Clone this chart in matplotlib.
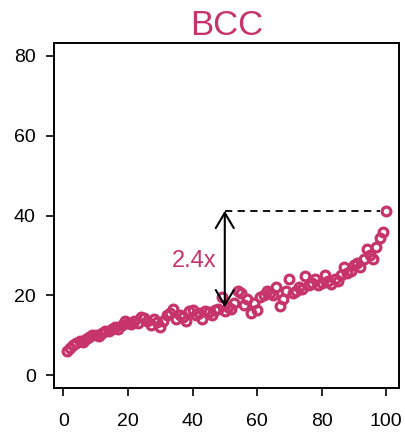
import matplotlib.pyplot as plt

plt.rcParams['font.family'] = ['Liberation Sans', 'DejaVu Sans']

col = '#C7336B'

x = list(range(1, 101))
y = [6.0, 6.8, 7.5, 8.0, 8.5, 8.3, 9.0, 9.5, 10.0, 10.0,
     9.8, 10.5, 11.0, 11.0, 11.5, 12.0, 11.5, 12.5, 13.5, 13.0,
     12.8, 13.5, 13.0, 14.5, 14.3, 13.5, 12.5, 14.0, 13.3, 12.0,
     13.5, 15.0, 15.5, 16.5, 14.0, 15.0, 14.5, 13.5, 16.0, 16.3,
     15.0, 15.5, 14.0, 16.0, 15.8, 15.0, 16.3, 16.5, 19.5, 16.0,
     17.0, 16.5, 18.0, 21.0, 20.5, 17.5, 19.0, 15.5, 18.0, 16.3,
     19.5, 20.0, 21.0, 20.5, 20.0, 22.0, 17.3, 19.0, 21.0, 24.0,
     20.5, 21.0, 22.0, 21.5, 24.8, 22.5, 23.0, 24.0, 22.5, 23.0,
     25.0, 23.5, 22.8, 24.0, 23.5, 25.0, 27.0, 25.5, 26.0, 27.5,
     28.0, 27.0, 29.0, 31.5, 30.0, 29.0, 32.0, 34.5, 36.0, 41.2]

ratio_label = '2.4x'
arrow_x = 50
arrow_lo = 17.0
arrow_hi = 41.2

fig = plt.figure(figsize=(4.05, 4.32), dpi=100)
ax = fig.add_axes([0.133, 0.102, 0.852, 0.798])

ax.plot(x, y, linestyle='none', marker='o', markersize=6.3,
        markerfacecolor='none', markeredgecolor=col, markeredgewidth=2.3, zorder=3)

# dashed reference line at max value
ax.plot([arrow_x, 98], [arrow_hi, arrow_hi], color='black', linestyle=(0, (4, 3)), lw=1.3)
ax.annotate('', xy=(arrow_x, arrow_hi), xytext=(arrow_x, arrow_lo),
            arrowprops=dict(arrowstyle='<->,head_length=11,head_width=6.5',
                            mutation_scale=1, color='black', lw=1.5,
                            shrinkA=0, shrinkB=0))
ax.text(47.5, 28.5, ratio_label, color=col, fontsize=17, ha='right', va='center')

ax.set_xlim(-2.96, 103.96)
ax.set_ylim(-3.2, 83.2)
ax.set_xticks([0, 20, 40, 60, 80, 100])
ax.set_yticks([0, 20, 40, 60, 80])
ax.tick_params(axis='both', direction='out', length=6, width=1.2, labelsize=14)
ax.tick_params(axis='x', pad=12)
ax.tick_params(axis='y', pad=7)
for s in ax.spines.values():
    s.set_linewidth(1.4)

ax.set_title('BCC', color=col, fontsize=25, pad=6)

fig.savefig('out.png', dpi=100)
